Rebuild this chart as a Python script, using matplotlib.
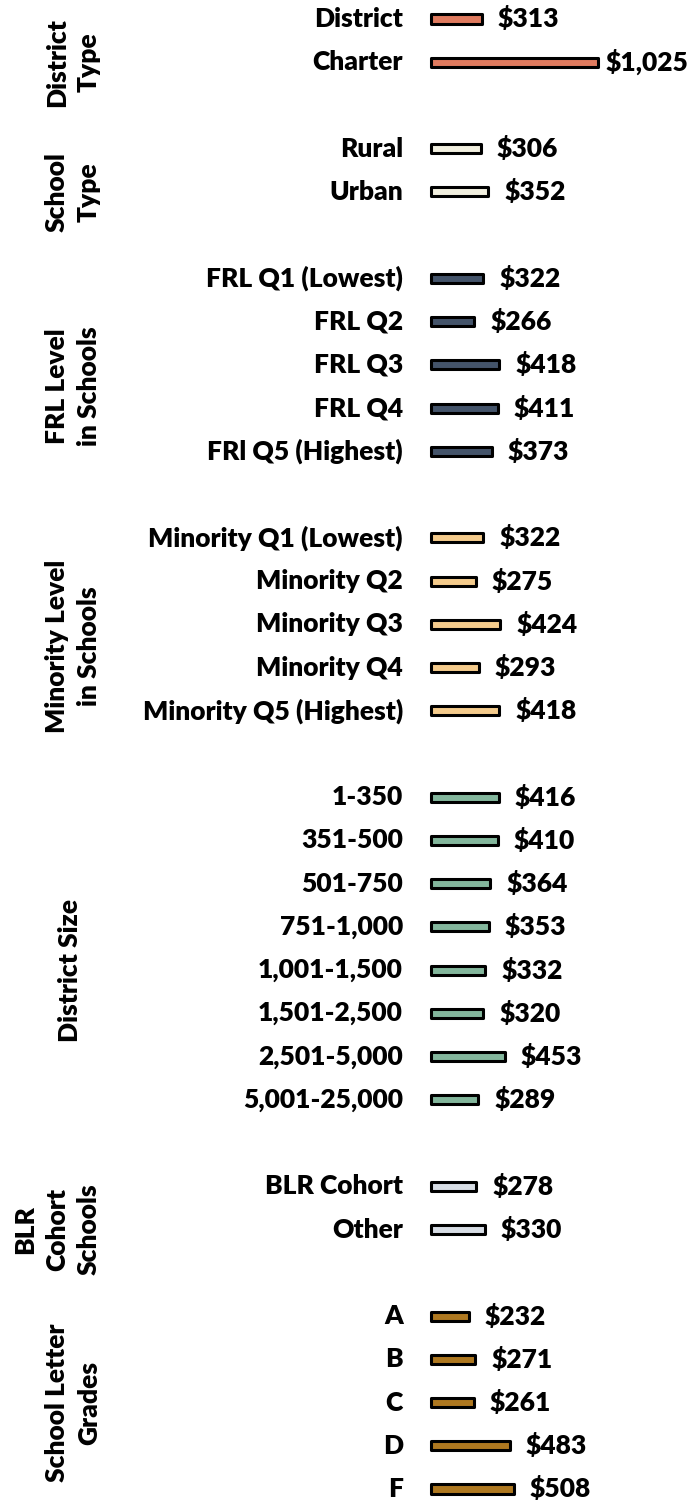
import matplotlib
matplotlib.use("Agg")
import matplotlib.pyplot as plt
import matplotlib.transforms as mtransforms

# groups of the chart (top to bottom)
group_names = [
    "District\nType",
    "School\nType",
    "FRL Level\nin Schools",
    "Minority Level\nin Schools",
    "District Size",
    "BLR\nCohort\nSchools",
    "School Letter\nGrades",
]
group_colors = ["#E07B5F", "#F1EFDF", "#44546A", "#F4CB8C", "#83B69C", "#D6DCE4", "#AE7820"]

district_type = ["District", "Charter"]
district_type_vals = [313, 1025]

school_type = ["Rural", "Urban"]
school_type_vals = [306, 352]

frl = ["FRL Q1 (Lowest)", "FRL Q2", "FRL Q3", "FRL Q4", "FRl Q5 (Highest)"]
frl_vals = [322, 266, 418, 411, 373]

minority = ["Minority Q1 (Lowest)", "Minority Q2", "Minority Q3", "Minority Q4",
            "Minority Q5 (Highest)"]
minority_vals = [322, 275, 424, 293, 418]

district_size = ["1-350", "351-500", "501-750", "751-1,000", "1,001-1,500",
                 "1,501-2,500", "2,501-5,000", "5,001-25,000"]
district_size_vals = [416, 410, 364, 353, 332, 320, 453, 289]

blr = ["BLR Cohort", "Other"]
blr_vals = [278, 330]

grades = ["A", "B", "C", "D", "F"]
grades_vals = [232, 271, 261, 483, 508]

groups = [
    (district_type, district_type_vals),
    (school_type, school_type_vals),
    (frl, frl_vals),
    (minority, minority_vals),
    (district_size, district_size_vals),
    (blr, blr_vals),
    (grades, grades_vals),
]

W, H, DPI = 691, 1503, 100
fig = plt.figure(figsize=(W / DPI, H / DPI), dpi=DPI, facecolor="white")
ax = fig.add_axes([0, 0, 1, 1])
ax.axis("off")

# pixel layout: bars start at x=431, 1025 -> 598; rows every 43.24 px from y=19
x0, xscale = 431, (598 - 431) / 1025
row0, rowh = 19, 43.235
ax.set_xlim(-x0 / xscale, (W - x0) / xscale)
ax.set_ylim((H - row0) / rowh, -row0 / rowh)

font = dict(family=["Lato", "DejaVu Sans"], fontweight="heavy", fontsize=19, color="black")
trans = mtransforms.blended_transform_factory(fig.transFigure, ax.transData)

slot = 0
for i, ((labels, vals), gname, col) in enumerate(zip(groups, group_names, group_colors)):
    ys = list(range(slot, slot + len(labels)))
    bars = ax.barh(ys, vals, height=0.21, color=col, edgecolor="black",
                   linewidth=2.2, zorder=3)
    for b in bars:
        b.set_joinstyle("round")
    for y, lab, v in zip(ys, labels, vals):
        ax.annotate(lab, xy=(0, y), xytext=(-28, 0), textcoords="offset pixels",
                    ha="right", va="center", **font)
        off = 8 if v > 1000 else 16
        ax.annotate(f"${v:,}", xy=(v, y), xytext=(off, 0), textcoords="offset pixels",
                    ha="left", va="center", **font)
    # the group band includes the empty slot that follows it (like excel)
    last = ys[-1] + (1 if i < len(groups) - 1 else 0)
    yc = (ys[0] + last) / 2
    if "\n" in gname:
        ax.text(101 / W, yc, gname, transform=trans, rotation=90, ha="right",
                va="center", multialignment="center", linespacing=1.4, **font)
    else:
        ax.text(70 / W, yc, gname, transform=trans, rotation=90, ha="center",
                va="center", **font)
    slot += len(labels) + 1

fig.savefig("out.png", dpi=DPI, facecolor="white")
